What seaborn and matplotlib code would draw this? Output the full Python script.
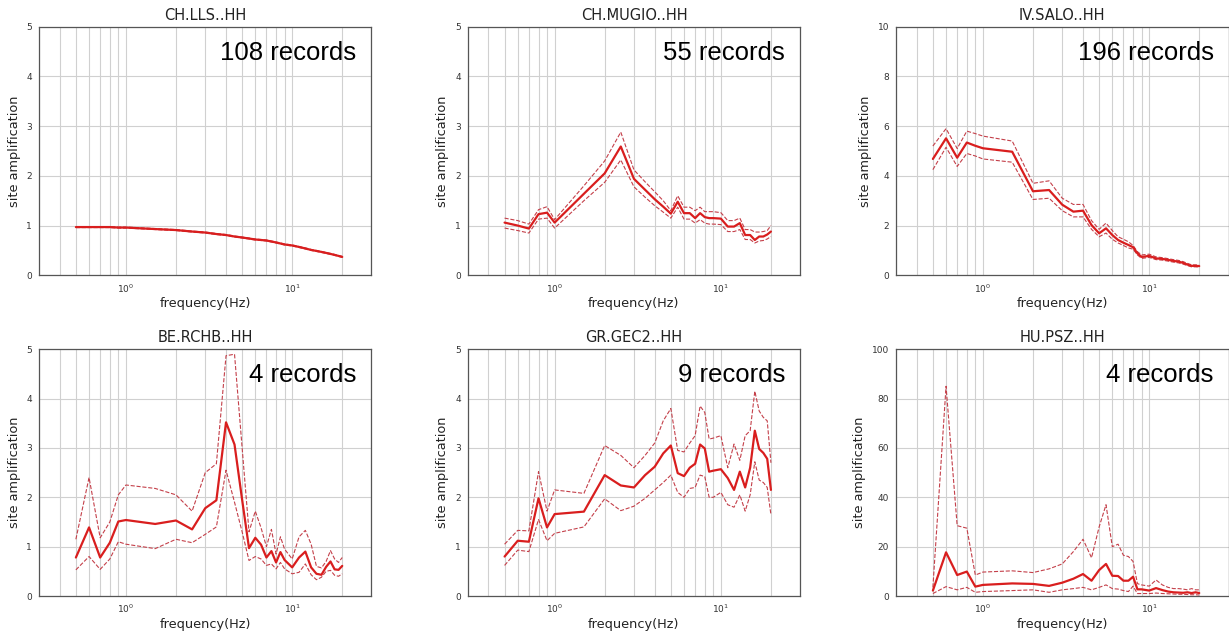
import matplotlib

matplotlib.use("Agg")

import matplotlib.pyplot as plt
import numpy as np
import pandas as pd
import seaborn as sns
from matplotlib.ticker import FormatStrFormatter, LogLocator, NullFormatter

# frequencies shared by every station (Hz)
FREQ = [0.5, 0.6, 0.7, 0.8, 0.9, 1.0, 1.5, 2.0, 2.5, 3.0, 3.5, 4.0, 4.5, 5.0, 5.5,
        6.0, 6.5, 7.0, 7.5, 8.0, 8.5, 9.0, 10, 11, 12, 13, 14, 15, 16, 17, 18, 19, 20]

STATIONS = ["CH.LLS..HH", "CH.MUGIO..HH", "IV.SALO..HH",
            "BE.RCHB..HH", "GR.GEC2..HH", "HU.PSZ..HH"]
N_RECORDS = [108, 55, 196, 4, 9, 4]
Y_MAX = [5, 5, 10, 5, 5, 100]

lls_mean = [0.97, 0.97, 0.97, 0.97, 0.96, 0.96, 0.93, 0.91, 0.88, 0.86, 0.83, 0.81, 0.78,
            0.76, 0.74, 0.72, 0.71, 0.70, 0.68, 0.66, 0.64, 0.62, 0.60, 0.57, 0.54, 0.51,
            0.49, 0.47, 0.45, 0.43, 0.41, 0.39, 0.37]
lls_hi = [0.98, 0.98, 0.98, 0.98, 0.97, 0.97, 0.94, 0.92, 0.89, 0.87, 0.84, 0.82, 0.79,
          0.77, 0.75, 0.73, 0.72, 0.71, 0.69, 0.67, 0.65, 0.63, 0.61, 0.58, 0.55, 0.52,
          0.50, 0.48, 0.46, 0.44, 0.42, 0.40, 0.38]
lls_lo = [0.96, 0.96, 0.96, 0.96, 0.95, 0.95, 0.92, 0.90, 0.87, 0.85, 0.82, 0.80, 0.77,
          0.75, 0.73, 0.71, 0.70, 0.69, 0.67, 0.65, 0.63, 0.61, 0.59, 0.56, 0.53, 0.50,
          0.48, 0.46, 0.44, 0.42, 0.40, 0.38, 0.36]

mugio_mean = [1.06, 1.00, 0.94, 1.23, 1.26, 1.06, 1.64, 2.05, 2.59, 1.94, 1.72, 1.53, 1.38,
              1.24, 1.48, 1.25, 1.25, 1.15, 1.25, 1.17, 1.15, 1.15, 1.14, 0.98, 0.98, 1.05,
              0.81, 0.81, 0.71, 0.78, 0.78, 0.82, 0.88]
mugio_hi = [1.15, 1.10, 1.03, 1.32, 1.38, 1.12, 1.80, 2.30, 2.88, 2.12, 1.88, 1.68, 1.50,
            1.30, 1.60, 1.37, 1.37, 1.30, 1.37, 1.28, 1.28, 1.28, 1.26, 1.10, 1.10, 1.15,
            0.92, 0.92, 0.87, 0.87, 0.88, 0.90, 1.00]
mugio_lo = [0.95, 0.90, 0.85, 1.13, 1.15, 0.95, 1.50, 1.87, 2.32, 1.78, 1.57, 1.40, 1.27,
            1.15, 1.37, 1.13, 1.13, 1.05, 1.12, 1.05, 1.03, 1.03, 1.02, 0.88, 0.88, 0.92,
            0.72, 0.72, 0.65, 0.69, 0.70, 0.73, 0.78]

salo_mean = [4.68, 5.51, 4.73, 5.34, 5.21, 5.11, 4.97, 3.38, 3.43, 2.84, 2.56, 2.60, 2.02,
             1.69, 1.89, 1.62, 1.42, 1.31, 1.22, 1.13, 0.88, 0.74, 0.78, 0.68, 0.66, 0.62,
             0.58, 0.55, 0.50, 0.43, 0.38, 0.38, 0.37]
salo_hi = [5.20, 5.90, 5.10, 5.80, 5.70, 5.60, 5.40, 3.70, 3.80, 3.10, 2.85, 2.85, 2.20,
           1.85, 2.10, 1.80, 1.55, 1.45, 1.35, 1.20, 0.95, 0.82, 0.85, 0.74, 0.71, 0.67,
           0.63, 0.60, 0.55, 0.48, 0.42, 0.42, 0.41]
salo_lo = [4.25, 5.15, 4.38, 4.90, 4.80, 4.68, 4.55, 3.05, 3.10, 2.60, 2.35, 2.35, 1.85,
           1.55, 1.70, 1.45, 1.30, 1.20, 1.10, 1.05, 0.82, 0.68, 0.72, 0.63, 0.61, 0.57,
           0.53, 0.50, 0.45, 0.39, 0.34, 0.34, 0.33]

rchb_mean = [0.78, 1.39, 0.78, 1.08, 1.51, 1.54, 1.46, 1.53, 1.35, 1.78, 1.94, 3.52, 3.07,
             1.95, 0.97, 1.18, 1.04, 0.78, 0.91, 0.68, 0.89, 0.73, 0.58, 0.78, 0.90, 0.58,
             0.45, 0.43, 0.59, 0.70, 0.54, 0.53, 0.61]
rchb_hi = [1.15, 2.40, 1.18, 1.50, 2.05, 2.25, 2.18, 2.05, 1.72, 2.50, 2.68, 4.87, 4.90,
           3.00, 1.30, 1.72, 1.38, 1.00, 1.35, 0.85, 1.20, 0.95, 0.75, 1.20, 1.33, 1.05,
           0.60, 0.57, 0.70, 0.92, 0.75, 0.68, 0.78]
rchb_lo = [0.53, 0.80, 0.54, 0.75, 1.10, 1.05, 0.96, 1.15, 1.08, 1.25, 1.40, 2.55, 1.90,
           1.30, 0.72, 0.80, 0.75, 0.62, 0.65, 0.55, 0.68, 0.55, 0.45, 0.48, 0.65, 0.43,
           0.33, 0.38, 0.50, 0.52, 0.42, 0.40, 0.45]

gec2_mean = [0.80, 1.12, 1.10, 1.98, 1.39, 1.66, 1.71, 2.45, 2.24, 2.20, 2.45, 2.62, 2.89,
             3.05, 2.49, 2.43, 2.60, 2.68, 3.07, 2.99, 2.52, 2.54, 2.57, 2.39, 2.15, 2.52,
             2.20, 2.60, 3.35, 2.98, 2.90, 2.78, 2.15]
gec2_hi = [1.05, 1.33, 1.32, 2.52, 1.72, 2.15, 2.08, 3.05, 2.85, 2.60, 2.85, 3.10, 3.55,
           3.80, 2.95, 2.92, 3.10, 3.25, 3.85, 3.72, 3.18, 3.20, 3.25, 2.60, 3.08, 2.75,
           3.25, 3.35, 4.15, 3.75, 3.62, 3.55, 2.70]
gec2_lo = [0.62, 0.93, 0.90, 1.55, 1.12, 1.27, 1.40, 1.97, 1.73, 1.82, 1.98, 2.15, 2.30,
           2.45, 2.10, 2.00, 2.18, 2.20, 2.45, 2.42, 2.00, 2.00, 2.10, 1.85, 1.80, 2.05,
           1.72, 2.05, 2.72, 2.35, 2.30, 2.20, 1.65]

psz_mean = [2.2, 17.7, 8.5, 9.9, 3.8, 4.5, 5.1, 4.9, 4.1, 5.4, 7.0, 8.9, 6.2, 10.5, 13.0,
            8.2, 8.1, 6.2, 6.2, 7.8, 2.7, 2.7, 2.2, 3.2, 2.4, 1.8, 1.5, 1.4, 1.3, 1.5, 1.2,
            1.5, 1.2]
psz_hi = [3.5, 85.0, 28.5, 27.5, 8.5, 9.7, 10.2, 9.5, 11.0, 13.0, 18.0, 23.0, 15.5, 28.0,
          37.0, 20.0, 21.0, 16.5, 16.0, 14.0, 5.0, 4.5, 4.0, 6.5, 4.5, 3.5, 3.0, 3.0, 2.8,
          2.5, 3.0, 2.5, 2.5]
psz_lo = [1.0, 3.8, 2.5, 3.5, 1.5, 1.8, 2.2, 2.5, 1.5, 2.5, 3.0, 3.5, 2.5, 3.5, 4.5, 3.0,
          2.8, 2.2, 1.8, 4.0, 1.0, 1.0, 1.0, 1.2, 1.0, 0.9, 0.8, 0.7, 0.7, 0.6, 0.5, 0.5, 0.4]

CURVES = [
    (lls_mean, lls_hi, lls_lo),
    (mugio_mean, mugio_hi, mugio_lo),
    (salo_mean, salo_hi, salo_lo),
    (rchb_mean, rchb_hi, rchb_lo),
    (gec2_mean, gec2_hi, gec2_lo),
    (psz_mean, psz_hi, psz_lo),
]

MEAN_COLOR = "#d91e1e"
BAND_COLOR = "#c4404a"

sns.set_style("white")
plt.rcParams["font.family"] = ["DejaVu Sans"]

fig = plt.figure(figsize=(12.29, 6.35), dpi=100)

# axes boxes in figure pixels (left, top) -> fractions
W, H = 1229, 635
lefts = [39, 467.7, 896]
tops = [26.7, 349.3]
heights = [248.6, 246.7]
ax_w = 332.5

for i, (station, n, ymax, (mean, hi, lo)) in enumerate(zip(STATIONS, N_RECORDS, Y_MAX, CURVES)):
    row, col = divmod(i, 3)
    ax = fig.add_axes([
        lefts[col] / W,
        1 - (tops[row] + heights[row]) / H,
        ax_w / W,
        heights[row] / H,
    ])
    df = pd.DataFrame({"freq": FREQ, "mean": mean, "hi": hi, "lo": lo})

    sns.lineplot(data=df, x="freq", y="hi", ax=ax, color=BAND_COLOR, linewidth=0.8,
                 linestyle="--")
    sns.lineplot(data=df, x="freq", y="lo", ax=ax, color=BAND_COLOR, linewidth=0.8,
                 linestyle="--")
    sns.lineplot(data=df, x="freq", y="mean", ax=ax, color=MEAN_COLOR, linewidth=1.6)

    ax.set_xscale("log")
    ax.set_xlim(0.3, 30)
    ax.set_ylim(0, ymax)
    ax.set_yticks(np.linspace(0, ymax, 6))
    ax.yaxis.set_major_formatter(FormatStrFormatter("%d"))
    ax.xaxis.set_major_locator(LogLocator(base=10))
    ax.xaxis.set_minor_locator(LogLocator(base=10, subs=np.arange(2, 10)))
    ax.xaxis.set_minor_formatter(NullFormatter())

    ax.grid(True, which="major", color="#d0d0d0", linewidth=0.8)
    ax.grid(True, which="minor", axis="x", color="#d0d0d0", linewidth=0.8)
    ax.set_axisbelow(True)

    ax.tick_params(axis="both", which="major", labelsize=6.5, length=3, width=0.8,
                   color="#555555", labelcolor="#333333", pad=2)
    ax.tick_params(axis="x", which="minor", length=0)
    for sp in ax.spines.values():
        sp.set_color("#555555")
        sp.set_linewidth(0.9)

    ax.set_title(station, fontsize=10.5, color="#222222", pad=5)
    ax.set_xlabel("frequency(Hz)", fontsize=9.3, color="#222222", labelpad=2)
    ax.set_ylabel("site amplification", fontsize=9.3, color="#222222", labelpad=4)

    ax.text(0.955, 0.866, f"{n} records", transform=ax.transAxes, ha="right",
            va="baseline", fontsize=18.5, family="Liberation Sans", color="black")

fig.savefig("out.png", dpi=100)
